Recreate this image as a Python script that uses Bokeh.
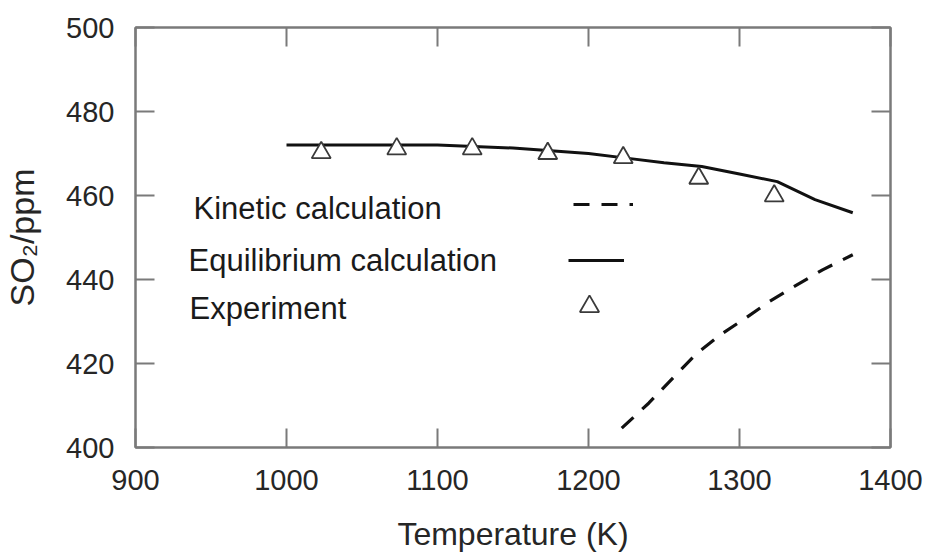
from bokeh.plotting import figure
from bokeh.models import LinearAxis, Range1d, FixedTicker, Legend, LegendItem, Label
from bokeh.core.properties import value
from bokeh.embed import file_html
from bokeh.resources import INLINE

# ---- data ----
temp_kinetic = [1222, 1240, 1256, 1272, 1288, 1304, 1320, 1336, 1355, 1375]
so2_kinetic = [404.6, 410.6, 416.6, 422.5, 427.0, 430.8, 434.8, 438.3, 442.3, 445.9]

temp_equil = [1000, 1100, 1150, 1200, 1225, 1250, 1275, 1300, 1325, 1350, 1375]
so2_equil = [472.0, 472.0, 471.3, 470.0, 468.9, 467.8, 466.9, 465.1, 463.3, 459.0, 455.9]

temp_exp = [1023, 1073, 1123, 1173, 1223, 1273, 1323]
so2_exp = [470.2, 471.1, 471.1, 470.0, 469.0, 464.1, 459.9]

x_ticks = [900, 1000, 1100, 1200, 1300, 1400]
y_ticks = [400, 420, 440, 460, 480, 500]

series_labels = ["Kinetic calculation", "Equilibrium calculation", "Experiment"]

FONT = "Liberation Sans"
FRAME = "#7a7a7a"
TEXT = "#262626"

p = figure(width=928, height=554, x_range=Range1d(900, 1400), y_range=Range1d(400, 500),
           output_backend="svg", toolbar_location=None,
           min_border_left=135, min_border_right=38, min_border_top=27, min_border_bottom=106,
           x_axis_label="Temperature (K)", y_axis_label="SO\u2082/ppm")
p.background_fill_color = "white"
p.border_fill_color = "white"
p.xgrid.visible = False
p.ygrid.visible = False
p.outline_line_color = FRAME
p.outline_line_width = 2


def style_axis(ax, ticks, standoff, show_labels=True):
    ax.ticker = FixedTicker(ticks=ticks)
    ax.axis_line_color = FRAME
    ax.axis_line_width = 2
    ax.major_tick_line_color = FRAME
    ax.major_tick_line_width = 2
    ax.major_tick_in = 19
    ax.major_tick_out = 0
    ax.minor_tick_line_color = None
    ax.major_label_text_font = FONT
    ax.major_label_text_color = TEXT
    ax.major_label_standoff = standoff
    if show_labels:
        ax.major_label_text_font_size = "29px"
    else:
        ax.major_label_text_font_size = "0px"
        ax.major_label_overrides = {t: "" for t in ticks}


style_axis(p.xaxis[0], x_ticks, 22)
style_axis(p.yaxis[0], y_ticks, 21)
p.xaxis[0].axis_label_text_font = FONT
p.xaxis[0].axis_label_text_font_size = "32px"
p.xaxis[0].axis_label_text_font_style = "normal"
p.xaxis[0].axis_label_text_color = TEXT
p.xaxis[0].axis_label_standoff = 23
p.yaxis[0].axis_label_text_font = FONT
p.yaxis[0].axis_label_text_font_size = "34px"
p.yaxis[0].axis_label_text_font_style = "normal"
p.yaxis[0].axis_label_text_color = TEXT
p.yaxis[0].axis_label_standoff = 22

top = LinearAxis()
style_axis(top, x_ticks, 0, show_labels=False)
p.add_layout(top, "above")
right = LinearAxis()
style_axis(right, y_ticks, 0, show_labels=False)
p.add_layout(right, "right")

# ---- series ----
r_kin = p.line(temp_kinetic, so2_kinetic, line_color="#111111", line_width=3.2, line_dash="16 12")
r_eq = p.line(temp_equil, so2_equil, line_color="#111111", line_width=3)
r_exp = p.scatter(temp_exp, so2_exp, marker="triangle", size=19, fill_color="white",
                  line_color="#3a3a3a", line_width=1.8)


# ---- legend: text on the left, key glyph on the right ----
def key(renderer, x, y, w, h):
    lg = Legend(items=[LegendItem(label=value(" "), renderers=[renderer])],
                location=(x, y), glyph_width=w, glyph_height=h, padding=0, margin=0,
                spacing=0, label_width=0, label_standoff=0, label_height=h,
                label_text_font_size="1px", border_line_color=None,
                background_fill_alpha=0)
    p.add_layout(lg, "center")


key(r_kin, 438, 233, 60, 20)
key(r_eq, 433, 177.5, 56, 20)
key(r_exp, 430, 117, 48, 48)

for txt, lx, ly in zip(series_labels, [58, 53, 54], [239.5, 187.5, 139.5]):
    p.add_layout(Label(x=lx, y=ly, x_units="screen", y_units="screen", text=txt,
                       text_font=FONT, text_font_size="31px", text_color="#1a1a1a",
                       text_baseline="alphabetic", text_align="left"))

open("out.html", "w").write(file_html(p, INLINE))
